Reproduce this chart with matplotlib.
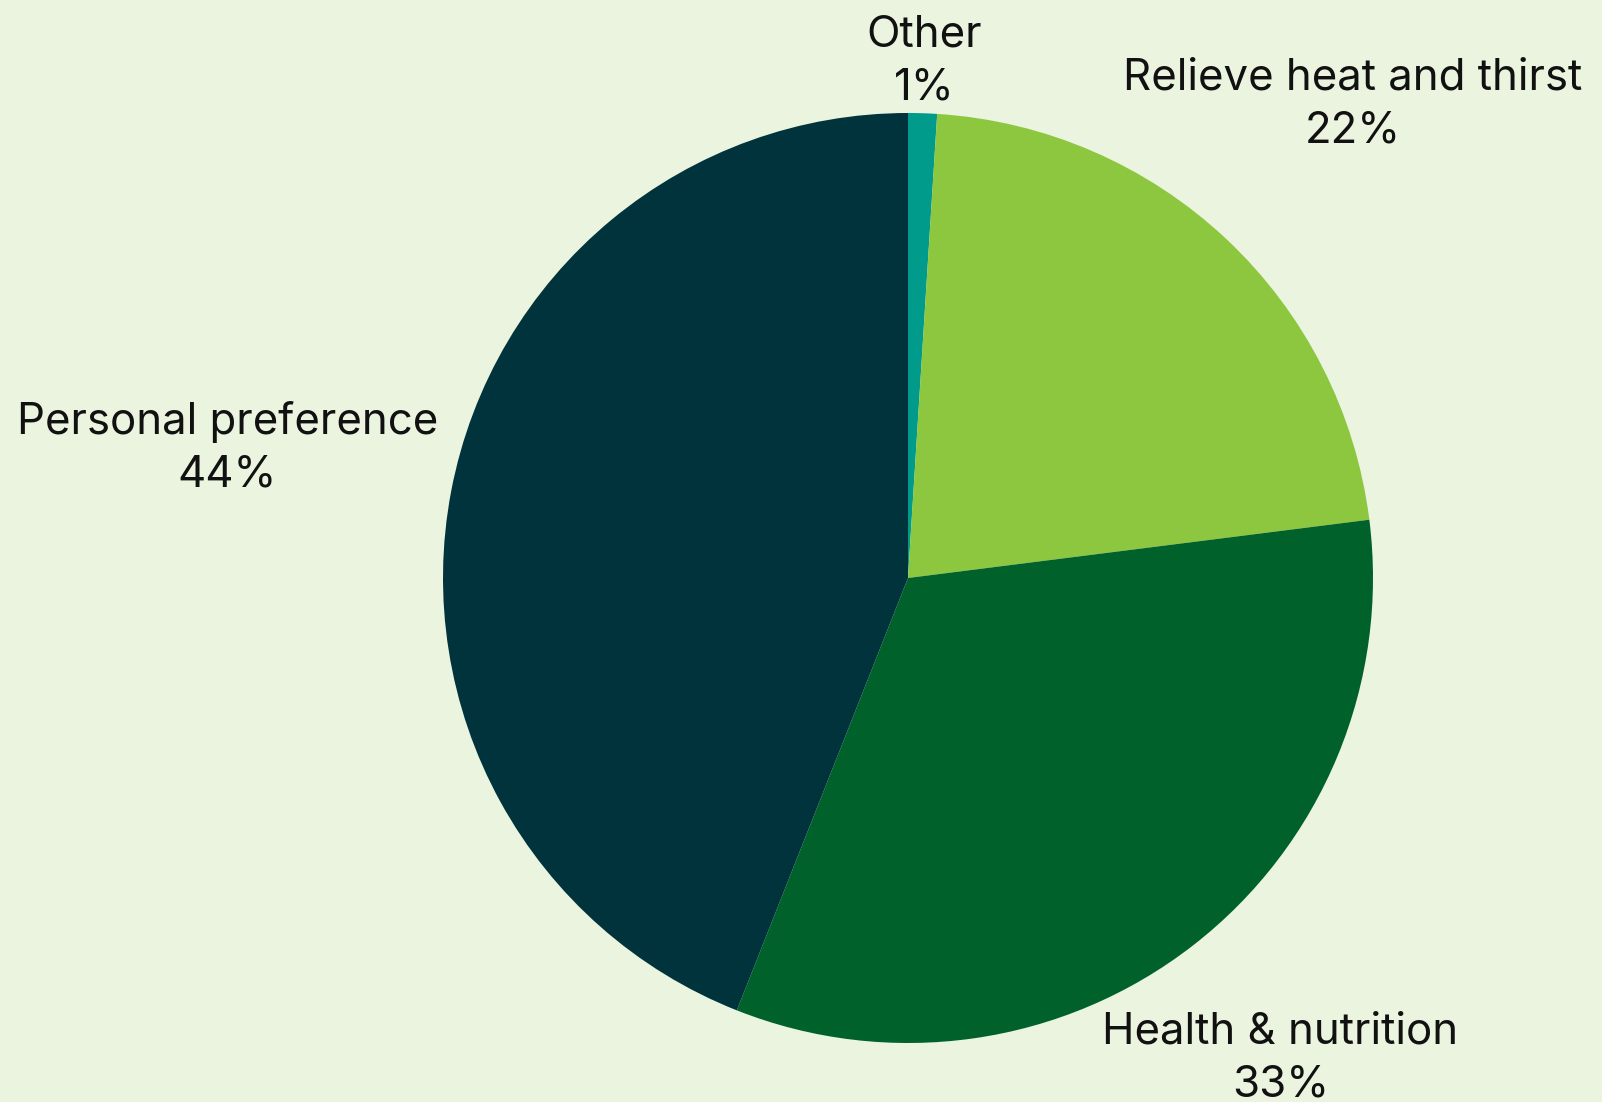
import matplotlib
matplotlib.use("Agg")
import matplotlib.pyplot as plt
import numpy as np

# Reasons for choosing the drink, share of respondents (%)
categories = ["Other", "Relieve heat and thirst", "Health & nutrition", "Personal preference"]
shares = [1, 22, 33, 44]
pct_labels = ["1%", "22%", "33%", "44%"]

colors = ["#009B8B", "#8DC63F", "#00622A", "#00333C"]
label_radius = [1.112, 1.396, 1.307, 1.49]
bg = "#EAF4DF"

plt.rcParams["font.family"] = ["Inter", "DejaVu Sans"]

W, H = 1602, 1102
fig = plt.figure(figsize=(W / 100, H / 100), dpi=100, facecolor=bg)

cx, cy, r = 908, 578, 465
# axes spans exactly the pie diameter so data radius 1 == r pixels
ax = fig.add_axes([(cx - r) / W, 1 - (cy + r) / H, 2 * r / W, 2 * r / H])
ax.set_facecolor(bg)

wedges, _ = ax.pie(shares, colors=colors, startangle=90, counterclock=False,
                   radius=1.0, wedgeprops=dict(linewidth=0))
ax.set_xlim(-1, 1)
ax.set_ylim(-1, 1)
ax.set_aspect("equal")
ax.axis("off")

for w, name, pct, d in zip(wedges, categories, pct_labels, label_radius):
    mid = np.deg2rad((w.theta1 + w.theta2) / 2)
    x, y = d * np.cos(mid), d * np.sin(mid)
    ax.text(x, y, f"{name}\n{pct}", ha="center", va="center", fontsize=31.5,
            color="#111111", linespacing=1.38, clip_on=False)

fig.savefig("out.png", dpi=100, facecolor=bg)
